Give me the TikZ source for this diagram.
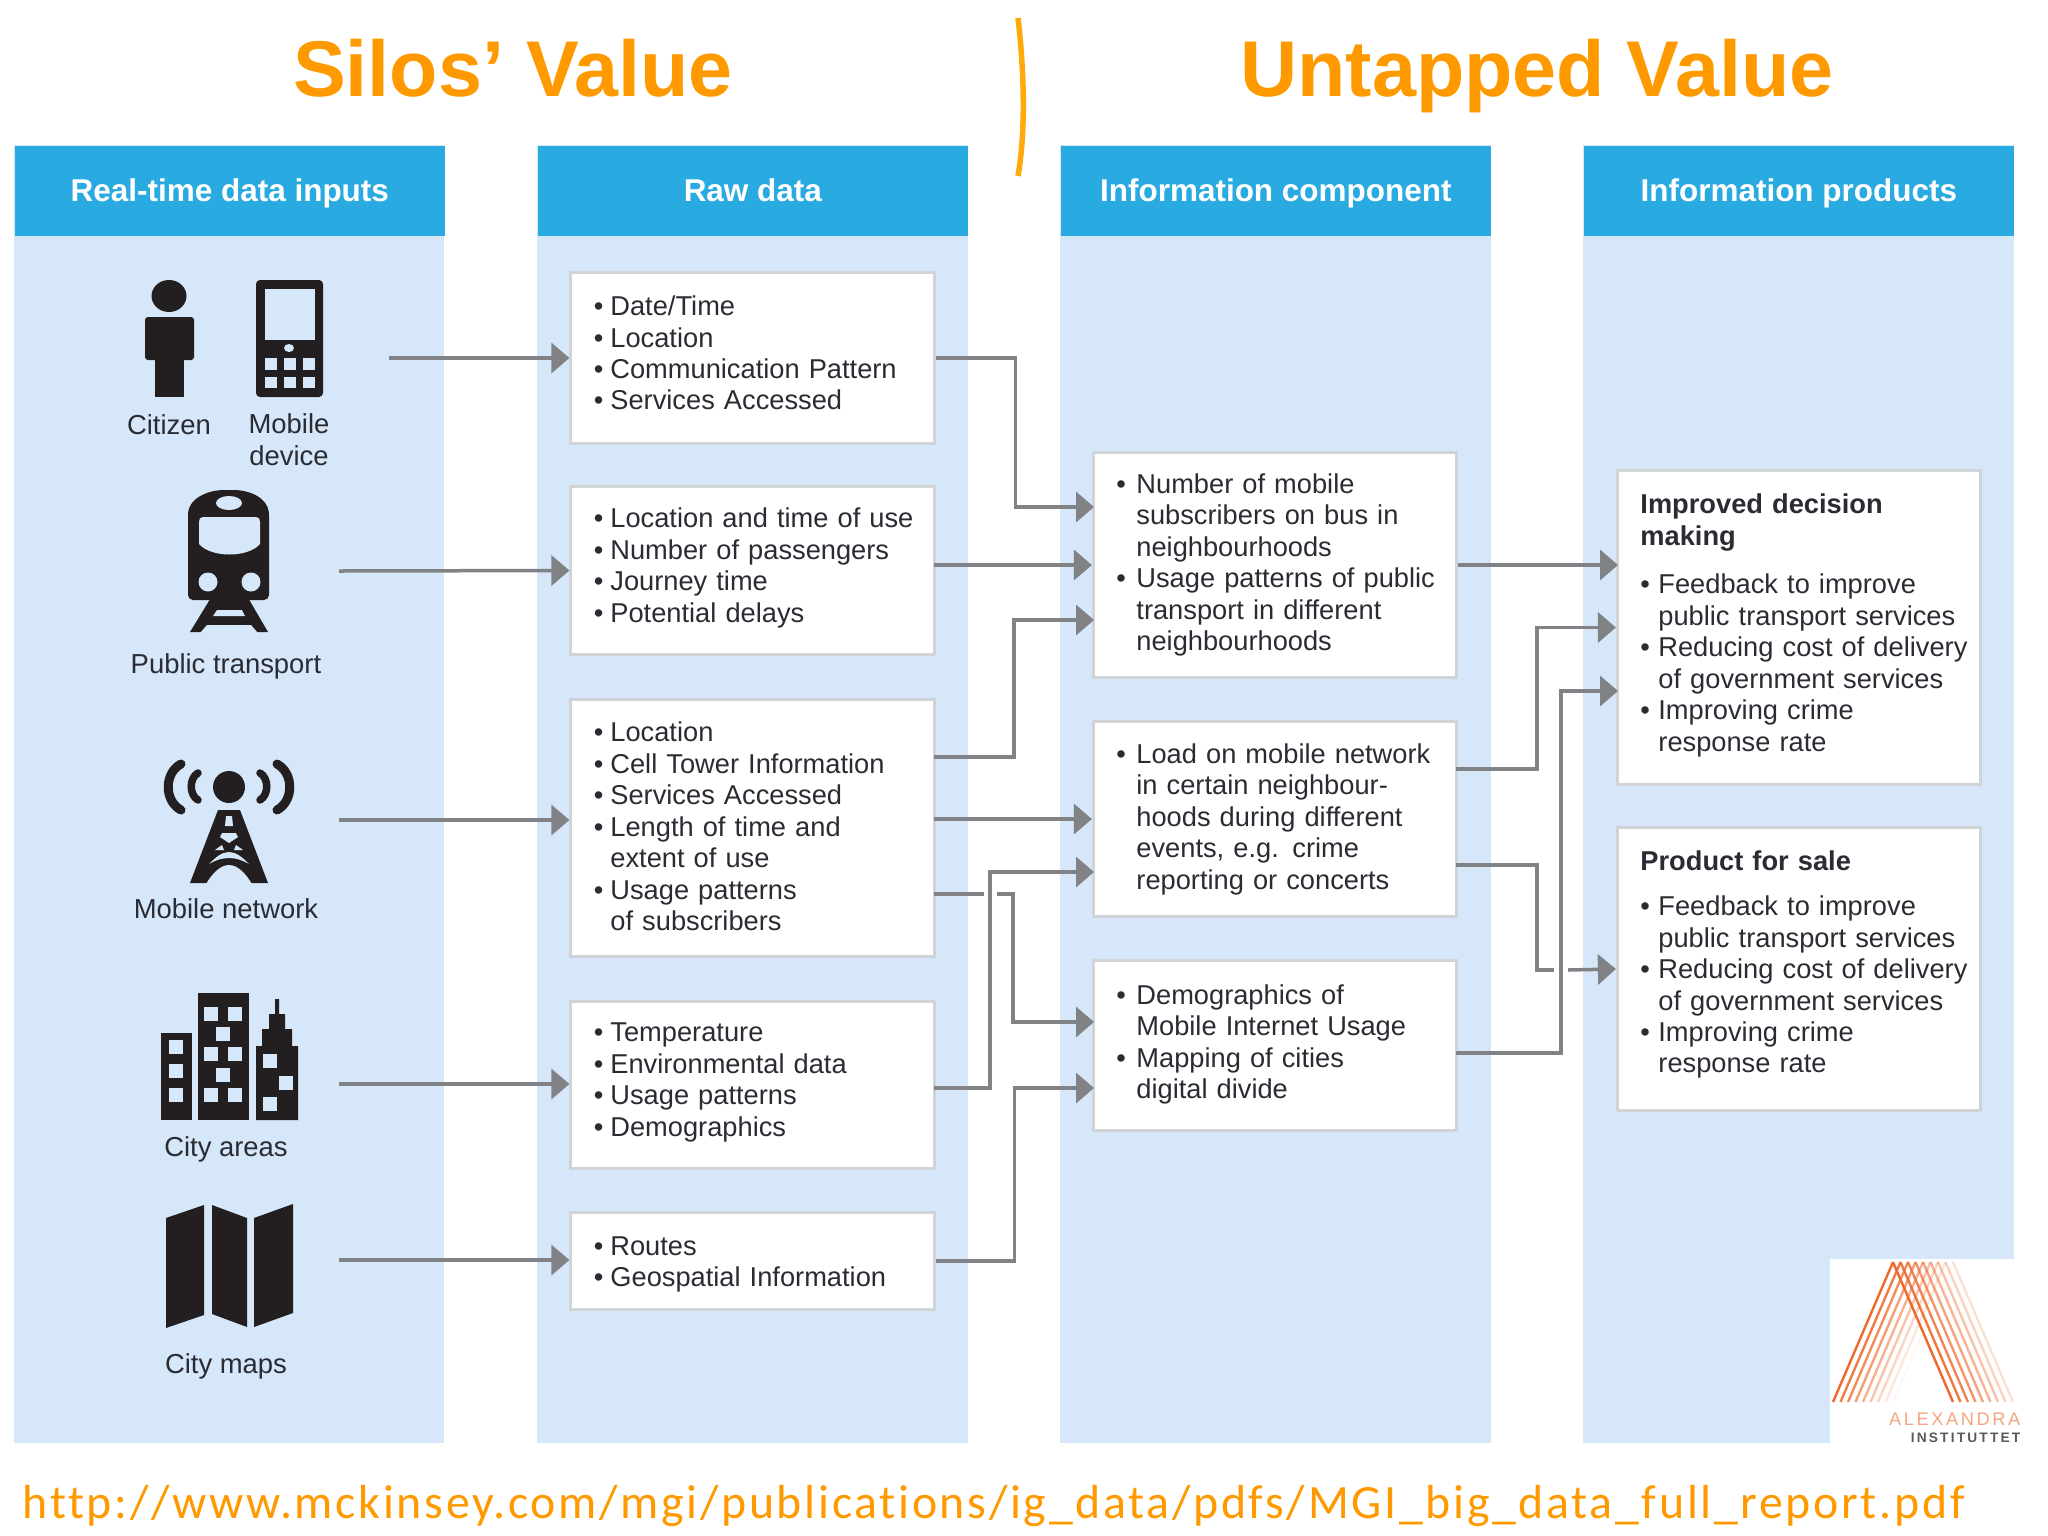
\documentclass[tikz,border=0pt]{standalone}
\usepackage{fontspec}
\usepackage{tikz}
\usetikzlibrary{arrows.meta}
\setmainfont{Liberation Sans}
\newfontfamily\urlfont{Carlito}
\definecolor{colblue}{HTML}{D5E7F8}
\definecolor{headblue}{HTML}{29ABE2}
\definecolor{boxline}{HTML}{D0D4D7}
\definecolor{linkgrey}{HTML}{808285}
\definecolor{titleorange}{HTML}{FF9900}
\definecolor{divorange}{HTML}{FFAA0A}
\definecolor{iconblack}{HTML}{231F20}
\definecolor{inktext}{HTML}{2B2B33}
\definecolor{logoorange}{HTML}{EE6A2C}
\newlength{\hangw}
\setlength{\hangw}{0.165cm}
\newcommand{\bl}[1]{\hspace*{0.09cm}\makebox[\hangw][l]{\textbullet}\mbox{#1}}
\newcommand{\cn}[1]{\hspace*{0.09cm}\hspace*{\hangw}\mbox{#1}}
\newcommand{\hd}[1]{\hspace*{0.09cm}\mbox{\textbf{#1}}}
\tikzset{
    column/.style={fill=colblue, draw=none},
    header/.style={rectangle, fill=headblue, text=white, font=\fontsize{8.95}{10}\selectfont\bfseries,
        minimum width=4.30cm, minimum height=0.90cm, anchor=north west, inner sep=0pt,
        text height=0.26cm, text depth=0.04cm},
    icon/.style={fill=iconblack, draw=none},
    hole/.style={fill=colblue, draw=none},
    tailgap/.style={execute at end node={\par\vspace*{#1}}}}

\begin{document}
\begin{tikzpicture}[
            x=0.01cm, y=-0.01cm,
            infobox/.style={rectangle, draw=boxline, fill=white, line width=0.03cm, text=inktext,
                font=\fontsize{7.75}{8.95}\selectfont, align=left, text width=3.35cm,
                inner xsep=0.14cm, inner ysep=0pt},
            compbox/.style={infobox, execute at begin node={\setlength{\hangw}{0.20cm}}},
            prodbox/.style={infobox, execute at begin node={\setlength{\hangw}{0.18cm}}},
            iconlabel/.style={text=inktext, font=\fontsize{7.8}{9.03}\selectfont, align=center, inner sep=0pt},
            link/.style={draw=linkgrey, line width=0.035cm, -{Triangle[length=0.18cm,width=0.30cm]}},
            linkpart/.style={draw=linkgrey, line width=0.035cm},
            title/.style={text=titleorange, font=\fontsize{22.5}{26}\selectfont\bfseries, inner sep=0pt, anchor=base}
        ]
        \useasboundingbox (0,0) rectangle (2048,1536);

        % Columns
        \fill[column] (14,145) rectangle (444,1443);
        \fill[column] (537,145) rectangle (968,1443);
        \fill[column] (1060,145) rectangle (1491,1443);
        \fill[column] (1583,145) rectangle (2014,1443);
        \node[header] (h1) at (14,145) {Real-time data inputs};
        \node[header] (h2) at (537,145) {Raw data};
        \node[header] (h3) at (1060,145) {Information component};
        \node[header] (h4) at (1583,145) {Information products};

        % Titles
        \node[title] (silos) at (513,96) {Silos’ Value};
        \node[title] (untapped) at (1537,96) {Untapped Value};
        \coordinate (divtop) at (1018,18);
        \coordinate (divend) at (1018,176);
        \draw[divorange, line width=0.055cm] (divtop) .. controls (1024,70) and (1026,130) .. (divend);

        % Raw data
        \node[infobox, minimum height=1.70cm, tailgap=0.1cm] (r1) at (752.5,358) {\bl{Date/Time}\\\bl{Location}\\\bl{Communication Pattern}\\\bl{Services Accessed}};
        \node[infobox, minimum height=1.67cm, tailgap=0.05cm] (r2) at (752.5,570.5) {\bl{Location and time of use}\\\bl{Number of passengers}\\\bl{Journey time}\\\bl{Potential delays}};
        \node[infobox, minimum height=2.56cm, tailgap=0.03cm] (r3) at (752.5,828) {\bl{Location}\\\bl{Cell Tower Information}\\\bl{Services Accessed}\\\bl{Length of time and}\\\cn{extent of use}\\\bl{Usage patterns}\\\cn{of subscribers}};
        \node[infobox, minimum height=1.66cm, tailgap=0.05cm] (r4) at (752.5,1085) {\bl{Temperature}\\\bl{Environmental data}\\\bl{Usage patterns}\\\bl{Demographics}};
        \node[infobox, minimum height=0.96cm, tailgap=-0.07cm] (r5) at (752.5,1261) {\bl{Routes}\\\bl{Geospatial Information}};

        % Information component
        \node[compbox, minimum height=2.24cm] (c1) at (1275,565) {\bl{Number of mobile}\\\cn{subscribers on bus in}\\\cn{neighbourhoods}\\\bl{Usage patterns of public}\\\cn{transport in different}\\\cn{neighbourhoods}};
        \node[compbox, minimum height=1.94cm] (c2) at (1275,819) {\bl{Load on mobile network}\\\cn{in certain neighbour-}\\\cn{hoods during different}\\\cn{events, e.g. crime}\\\cn{reporting or concerts}};
        \node[compbox, minimum height=1.69cm, tailgap=0.02cm] (c3) at (1275,1045.5) {\bl{Demographics of}\\\cn{Mobile Internet Usage}\\\bl{Mapping of cities}\\\cn{digital divide}};

        % Information products
        \node[prodbox, minimum height=3.13cm, tailgap=0.04cm] (p1) at (1799,627.5) {\hd{Improved decision}\\\hd{making}\\[0.17cm]\bl{Feedback to improve}\\\cn{public transport services}\\\bl{Reducing cost of delivery}\\\cn{of government services}\\\bl{Improving crime}\\\cn{response rate}};
        \node[prodbox, minimum height=2.82cm, tailgap=0.09cm] (p2) at (1799,969) {\hd{Product for sale}\\[0.14cm]\bl{Feedback to improve}\\\cn{public transport services}\\\bl{Reducing cost of delivery}\\\cn{of government services}\\\bl{Improving crime}\\\cn{response rate}};

        % Icon labels
        \node[iconlabel] (citizen) at (169,425) {Citizen};
        \node[iconlabel] (device) at (289,440) {Mobile\\device};
        \node[iconlabel] (transport) at (226,666) {Public transport};
        \node[iconlabel] (network) at (226,909) {Mobile network};
        \node[iconlabel] (areas) at (226,1149) {City areas};
        \node[iconlabel] (maps) at (226,1366) {City maps};

        % Free ends and ports
        \coordinate (in1) at (389,358);
        \coordinate (in2) at (339,571);
        \coordinate (in3) at (339,820);
        \coordinate (in4) at (339,1084);
        \coordinate (in5) at (339,1260);
        \coordinate (r2p) at (934,565);
        \coordinate (r3a) at (934,757);
        \coordinate (r3b) at (934,819);
        \coordinate (r3c) at (934,894);
        \coordinate (r4p) at (934,1088);
        \coordinate (c1a) at (1094,507);
        \coordinate (c1c) at (1094,620);
        \coordinate (c2b) at (1094,872);
        \coordinate (c3a) at (1094,1022);
        \coordinate (c3b) at (1094,1088);
        \coordinate (c2a) at (1456,769);
        \coordinate (c2c) at (1456,865);
        \coordinate (c3p) at (1456,1053);
        \coordinate (p1a) at (1618,565);
        \coordinate (p1c) at (1618,691);
        \coordinate (gapl) at (984,894);
        \coordinate (gapr) at (997,894);
        \coordinate (gapu) at (1554,970);
        \coordinate (gapv) at (1568,970);

        % Inputs to raw data
        \draw[link] (in1) -- (r1.west);
        \draw[link] (in2) -- (r2.west);
        \draw[link] (in3) -- (in3 -| r3.west);
        \draw[link] (in4) -- (in4 -| r4.west);
        \draw[link] (in5) -- (in5 -| r5.west);

        % Raw data to information component
        \draw[link] (r1.east) -- ++(80,0) |- (c1a);
        \draw[link] (r2p) -- (c1.west);
        \draw[link] (r3a) -- ++(80,0) |- (c1c);
        \draw[link] (r3b) -- (c2.west);
        \draw[linkpart] (r3c) -- (gapl);
        \draw[link] (gapr) -- ++(16,0) |- (c3a);
        \draw[link] (r4p) -- ++(56,0) |- (c2b);
        \draw[link] (r5.east) -- ++(79,0) |- (c3b);

        % Information component to products
        \draw[link] (c1.east) -- (p1a);
        \draw[link] (c2a) -- ++(81,0) |- (p1.west);
        \draw[linkpart] (c2c) -- ++(81,0) |- (gapu);
        \draw[link] (gapv) -- (p2.west);
        \draw[link] (c3p) -- ++(105,0) |- (p1c);

        % Citizen
        \fill[icon] (169,296) ellipse (17.5 and 16);
        \fill[icon, rounded corners=0.03cm] (145,360) -- (145,317) -- (194,317) -- (194,360) -- cycle;
        \fill[icon] (155,355) rectangle (184,397);

        % Mobile device
        \fill[icon, rounded corners=0.04cm] (256,280) rectangle (323,397);
        \fill[hole] (265,289) rectangle (315,340);
        \fill[hole] (289,348) ellipse (5 and 4);
        \foreach \kx in {265,284,303} {
            \fill[hole] (\kx,358) rectangle ++(12,12);
            \fill[hole] (\kx,377) rectangle ++(12,11);
        }

        % Public transport
        \fill[icon, rounded corners=0.05cm] (188,600) -- (188,520) .. controls (188,497) and (210,490) .. (229,490)
            .. controls (248,490) and (269,497) .. (269,520) -- (269,600) -- cycle;
        \fill[hole] (203,517) -- (256,517) .. controls (259,517) and (260,519) .. (260,522) -- (260,544)
            .. controls (248,558) and (211,558) .. (199,544) -- (199,522) .. controls (199,519) and (200,517) .. (203,517);
        \fill[hole] (229,503) ellipse (13 and 7);
        \fill[hole] (208,582) circle (9.5);
        \fill[hole] (251,582) circle (9.5);
        \fill[icon] (212,596) -- (247,596) -- (268,632) -- (190,632) -- cycle;
        \fill[hole] (217,610) -- (242,610) -- (245,616) -- (213,616) -- cycle;
        \fill[hole] (207,625) -- (251,625) -- (258,633) -- (200,633) -- cycle;

        % Mobile network
        \fill[icon] (229,787) circle (16);
        \foreach \sgn in {-1,1} {
            \draw[iconblack, line width=0.09cm, line cap=round] (229+\sgn*48,764) .. controls (229+\sgn*65,773) and (229+\sgn*65,801) .. (229+\sgn*48,810);
            \draw[iconblack, line width=0.075cm, line cap=round] (229+\sgn*31,773) .. controls (229+\sgn*40,778) and (229+\sgn*40,795) .. (229+\sgn*31,800);
        }
        \fill[icon] (218,810) -- (240,810) -- (268,883) -- (190,883) -- cycle;
        \fill[hole] (226,816) -- (232,816) -- (233,826) -- (225,826) -- cycle;
        \fill[hole] (222,833) -- (236,833) -- (238,837) -- (229,843) -- (220,837) -- cycle;
        \fill[hole] (215,850) -- (222,845) -- (224,850) -- cycle;
        \fill[hole] (243,850) -- (236,845) -- (234,850) -- cycle;
        \fill[hole] (209,864) .. controls (216,857) and (222,852) .. (229,852) .. controls (236,852) and (242,857) .. (249,864)
            .. controls (242,860) and (236,858) .. (229,858) .. controls (222,858) and (216,860) .. (209,864);
        \fill[hole] (206,884) .. controls (212,874) and (220,865) .. (229,865) .. controls (238,865) and (246,874) .. (252,884) -- cycle;

        % City areas
        \fill[icon] (161,1033) rectangle (192,1120);
        \foreach \wy in {1040,1064,1088} {
            \fill[hole] (169,\wy) rectangle ++(14,14);
        }
        \fill[icon] (198,993) rectangle (249,1120);
        \foreach \wx/\wy in {204/1007,228/1007,216/1027,204/1047,228/1047,216/1068,204/1088,228/1088} {
            \fill[hole] (\wx,\wy) rectangle ++(14,14);
        }
        \fill[icon] (256,1120) -- (256,1046) -- (262,1046) -- (262,1029) -- (269,1029) -- (269,1014) -- (275,1014) -- (275,999)
            -- (279,999) -- (279,1014) -- (285,1014) -- (285,1029) -- (292,1029) -- (292,1046) -- (298,1046) -- (298,1120) -- cycle;
        \foreach \wx/\wy in {263/1054,279/1076,263/1097} {
            \fill[hole] (\wx,\wy) rectangle ++(14,14);
        }

        % City maps
        \fill[icon] (166,1218) -- (204,1205) -- (204,1315) -- (166,1328) -- cycle;
        \fill[icon] (212,1205) -- (247,1218) -- (247,1327) -- (212,1314) -- cycle;
        \fill[icon] (254,1218) -- (293,1204) -- (293,1313) -- (254,1327) -- cycle;

        % Logo
        \fill[white] (1830,1259) rectangle (2048,1460);
        \foreach \k in {0,...,8} {
            \pgfmathsetmacro{\opl}{1-0.12*\k}
            \pgfmathsetmacro{\opr}{1-0.10*\k}
            \draw[logoorange, line width=0.024cm, opacity=\opl] (1893+7.5*\k,1262) -- (1833+7.5*\k,1402);
            \draw[logoorange, line width=0.024cm, opacity=\opr] (1893+7.5*\k,1262) -- (1953+7.5*\k,1402);
        }
        \node[text=logoorange!60, font=\fontsize{5.2}{6}\selectfont\addfontfeatures{LetterSpace=14}, anchor=east, inner sep=0pt] (logoa) at (2021,1419) {ALEXANDRA};
        \node[text=black!65, font=\fontsize{3.9}{5}\selectfont\bfseries\addfontfeatures{LetterSpace=16}, anchor=east, inner sep=0pt] (logob) at (2021,1438) {INSTITUTTET};

        % Source
        \node[text=titleorange, font=\urlfont\fontsize{13.6}{16}\selectfont\addfontfeatures{LetterSpace=5.6,Ligatures=NoCommon}, anchor=west, inner sep=0pt] (source) at (22,1506) {http://www.mckinsey.com/mgi/publications/ig\_data/pdfs/MGI\_big\_data\_full\_report.pdf};

    \end{tikzpicture}
\end{document}
